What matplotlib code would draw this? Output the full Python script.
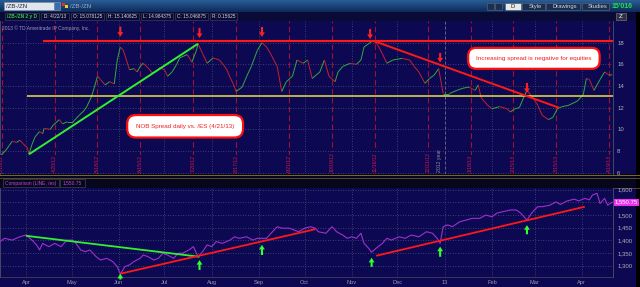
import matplotlib
matplotlib.use('Agg')
import matplotlib.pyplot as plt
import matplotlib.dates as mdates
import matplotlib.transforms as mtrans
import numpy as np
import pandas as pd
from matplotlib.collections import LineCollection
from matplotlib.patches import Rectangle
from matplotlib.colors import LinearSegmentedColormap
from matplotlib.ticker import FuncFormatter

plt.rcParams['font.family'] = ['Liberation Sans', 'DejaVu Sans']

# ---------------- data ----------------
# /ZB-/ZN spread, daily
spread_dates = ['2012-03-15', '2012-03-19', '2012-03-21', '2012-03-23', '2012-03-26', '2012-03-28',
                '2012-03-30', '2012-04-02', '2012-04-03', '2012-04-05', '2012-04-07', '2012-04-10',
                '2012-04-12', '2012-04-13', '2012-04-17', '2012-04-19', '2012-04-23', '2012-04-25',
                '2012-04-28', '2012-05-02', '2012-05-04', '2012-05-06', '2012-05-09', '2012-05-11',
                '2012-05-14', '2012-05-16', '2012-05-18', '2012-05-20', '2012-05-23', '2012-05-26',
                '2012-05-29', '2012-05-31', '2012-06-02', '2012-06-04', '2012-06-06', '2012-06-08',
                '2012-06-11', '2012-06-13', '2012-06-15', '2012-06-17', '2012-06-20', '2012-06-23',
                '2012-06-26', '2012-06-28', '2012-07-01', '2012-07-03', '2012-07-06', '2012-07-09',
                '2012-07-11', '2012-07-16', '2012-07-19', '2012-07-22', '2012-07-23', '2012-07-26',
                '2012-07-29', '2012-08-02', '2012-08-06', '2012-08-09', '2012-08-11', '2012-08-13',
                '2012-08-15', '2012-08-17', '2012-08-21', '2012-08-24', '2012-08-27', '2012-08-31',
                '2012-09-03', '2012-09-06', '2012-09-09', '2012-09-13', '2012-09-16', '2012-09-19',
                '2012-09-23', '2012-09-26', '2012-09-30', '2012-10-03', '2012-10-06', '2012-10-11',
                '2012-10-14', '2012-10-17', '2012-10-21', '2012-10-23', '2012-10-26', '2012-10-31',
                '2012-11-04', '2012-11-07', '2012-11-09', '2012-11-15', '2012-11-18', '2012-11-21',
                '2012-11-24', '2012-11-28', '2012-12-04', '2012-12-09', '2012-12-12', '2012-12-15',
                '2012-12-19', '2012-12-22', '2012-12-25', '2012-12-28', '2012-12-31', '2013-01-04',
                '2013-01-09', '2013-01-13', '2013-01-17', '2013-01-21', '2013-01-23', '2013-01-25',
                '2013-01-29', '2013-02-01', '2013-02-06', '2013-02-11', '2013-02-13', '2013-02-16',
                '2013-02-19', '2013-02-22', '2013-02-24', '2013-02-28', '2013-03-03', '2013-03-06',
                '2013-03-10', '2013-03-13', '2013-03-16', '2013-03-19', '2013-03-23', '2013-03-29',
                '2013-04-02', '2013-04-04', '2013-04-06', '2013-04-09', '2013-04-13', '2013-04-16',
                '2013-04-19', '2013-04-21']
spread_vals = [7.5, 8.1, 8.5, 8.9, 8.8, 9.0,
               8.7, 8.3, 7.7, 8.6, 9.3, 9.8,
               9.6, 10.1, 10.0, 10.4, 10.9, 10.5,
               10.7, 10.7, 11.0, 11.3, 11.7, 12.1,
               13.0, 13.9, 14.9, 14.6, 14.1, 14.4,
               14.2, 16.4, 17.6, 17.3, 16.4, 15.5,
               15.6, 15.3, 15.8, 16.1, 15.7, 15.2,
               15.4, 15.7, 15.5, 14.9, 15.3, 16.0,
               16.6, 16.9, 16.2, 17.3, 17.9, 17.0,
               16.1, 16.6, 16.4, 15.9, 15.5, 14.8,
               14.25, 13.5, 13.9, 14.9, 15.8, 17.3,
               18.0, 17.6, 16.9, 15.8, 13.5, 14.4,
               14.9, 16.4, 16.1, 16.4, 14.7, 15.3,
               16.4, 14.9, 14.4, 15.3, 15.8, 16.1,
               16.0, 16.4, 17.6, 18.2, 17.8, 17.0,
               16.1, 16.4, 16.55, 16.4, 15.8, 15.3,
               14.25, 14.7, 15.0, 15.6, 13.3, 13.3,
               13.6, 13.8, 13.9, 13.6, 14.1, 12.9,
               12.25, 11.9, 12.1, 11.9, 11.6, 11.9,
               12.0, 13.0, 13.6, 12.9, 12.25, 11.3,
               10.9, 11.1, 11.9, 12.1, 12.2, 12.6,
               13.2, 14.7, 14.6, 13.6, 14.6, 15.3,
               15.0, 15.05]

# /ES comparison line
es_dates = ['2012-03-15', '2012-03-18', '2012-03-23', '2012-03-28', '2012-04-01', '2012-04-05',
            '2012-04-08', '2012-04-10', '2012-04-12', '2012-04-16', '2012-04-20', '2012-04-24',
            '2012-04-28', '2012-05-01', '2012-05-03', '2012-05-07', '2012-05-10', '2012-05-13',
            '2012-05-17', '2012-05-20', '2012-05-24', '2012-05-28', '2012-05-31', '2012-06-02',
            '2012-06-05', '2012-06-08', '2012-06-11', '2012-06-15', '2012-06-17', '2012-06-20',
            '2012-06-24', '2012-06-27', '2012-06-30', '2012-07-03', '2012-07-07', '2012-07-10',
            '2012-07-13', '2012-07-17', '2012-07-20', '2012-07-23', '2012-07-26', '2012-07-29',
            '2012-08-01', '2012-08-04', '2012-08-08', '2012-08-13', '2012-08-16', '2012-08-19',
            '2012-08-24', '2012-08-28', '2012-08-31', '2012-09-03', '2012-09-06', '2012-09-09',
            '2012-09-13', '2012-09-16', '2012-09-21', '2012-09-24', '2012-09-27', '2012-10-01',
            '2012-10-05', '2012-10-08', '2012-10-10', '2012-10-15', '2012-10-19', '2012-10-22',
            '2012-10-26', '2012-10-29', '2012-11-01', '2012-11-04', '2012-11-07', '2012-11-09',
            '2012-11-12', '2012-11-14', '2012-11-17', '2012-11-21', '2012-11-24', '2012-11-27',
            '2012-12-02', '2012-12-06', '2012-12-10', '2012-12-15', '2012-12-20', '2012-12-24',
            '2012-12-27', '2012-12-29', '2012-12-31', '2013-01-03', '2013-01-06', '2013-01-11',
            '2013-01-15', '2013-01-19', '2013-01-24', '2013-01-28', '2013-02-01', '2013-02-04',
            '2013-02-08', '2013-02-13', '2013-02-17', '2013-02-20', '2013-02-24', '2013-02-27',
            '2013-03-03', '2013-03-06', '2013-03-11', '2013-03-15', '2013-03-18', '2013-03-22',
            '2013-03-27', '2013-03-30', '2013-04-03', '2013-04-06', '2013-04-08', '2013-04-11',
            '2013-04-13', '2013-04-16', '2013-04-18', '2013-04-21']
es_vals = [1395, 1408, 1401, 1414, 1421, 1401,
           1382, 1362, 1388, 1375, 1388, 1375,
           1401, 1401, 1395, 1362, 1355, 1362,
           1336, 1322, 1329, 1316, 1296, 1266,
           1296, 1303, 1316, 1329, 1342, 1336,
           1322, 1329, 1349, 1342, 1329, 1349,
           1349, 1362, 1375, 1336, 1355, 1382,
           1375, 1395, 1388, 1401, 1414, 1408,
           1414, 1401, 1408, 1408, 1408, 1428,
           1454, 1448, 1448, 1441, 1434, 1448,
           1454, 1448, 1434, 1428, 1454, 1434,
           1421, 1408, 1414, 1408, 1428, 1388,
           1369, 1353, 1369, 1388, 1408, 1401,
           1414, 1408, 1421, 1414, 1434, 1428,
           1408, 1388, 1454, 1461, 1454, 1474,
           1480, 1487, 1487, 1500, 1493, 1507,
           1513, 1520, 1520, 1507, 1480, 1507,
           1533, 1533, 1539, 1552, 1542, 1555,
           1563, 1556, 1566, 1560, 1579, 1586,
           1546, 1566, 1539, 1551]
es_last = 1550.75

# option expiry markers
expiry_dates = ['2012-03-16', '2012-04-20', '2012-05-18', '2012-06-15', '2012-07-20', '2012-08-17',
                '2012-09-21', '2012-10-19', '2012-11-16', '2012-12-21', '2013-01-18', '2013-02-15',
                '2013-03-15', '2013-04-19']
expiry_labels = ['3/16/12', '4/20/12', '5/18/12', '6/15/12', '7/20/12', '8/17/12', '9/21/12',
                 '10/19/12', '11/16/12', '12/21/12', '1/18/13', '2/15/13', '3/15/13', '4/19/13']
year_break = '2013-01-01'

month_starts = pd.date_range('2012-04-01', '2013-04-01', freq='MS')
month_labels = ['Apr', 'May', 'Jun', 'Jul', 'Aug', 'Sep', 'Oct', 'Nov', 'Dec', '13', 'Feb', 'Mar', 'Apr']
spread_ticks = [6, 8, 10, 12, 14, 16, 18]
es_ticks = [1300, 1350, 1400, 1450, 1500, 1550, 1600]

# hand-drawn studies (date, value)
spread_up_trend = [('2012-04-03', 7.7), ('2012-07-23', 17.9)]
spread_down_trend = [('2012-11-15', 18.18), ('2013-03-17', 12.0)]
spread_resist = ('2012-04-12', 18.18)
spread_support = ('2012-04-02', 13.08)
es_green_trend = [('2012-04-01', 1418), ('2012-07-24', 1335)]
es_red_trend1 = [('2012-06-02', 1268), ('2012-10-08', 1444)]
es_red_trend2 = [('2012-11-17', 1339), ('2013-04-03', 1533)]
down_arrows = [('2012-06-02', 19.48, 18.55), ('2012-07-24', 19.36, 18.43), ('2012-09-03', 19.45, 18.53),
               ('2012-11-13', 19.27, 18.34), ('2012-12-29', 17.05, 16.17), ('2013-02-24', 14.28, 13.36)]
up_arrows = [('2012-06-02', 1245, 1268), ('2012-07-24', 1283, 1322), ('2012-09-03', 1342, 1382),
             ('2012-11-14', 1295, 1331), ('2012-12-29', 1335, 1375), ('2013-02-24', 1424, 1460)]

# ---------------- figure ----------------
W, H = 640, 287
NAVY = '#0c0952'
fig = plt.figure(figsize=(6.4, 2.87), dpi=100)
fig.patch.set_facecolor(NAVY)

bg = fig.add_axes([0, 0, 1, 1], zorder=0)
bg.set_xlim(0, W); bg.set_ylim(H, 0); bg.axis('off')

# header gradient
grad = np.linspace(0, 1, 20).reshape(-1, 1)
hcm = LinearSegmentedColormap.from_list('h', ['#2a5c96', '#0d2b5a'])
bg.imshow(grad, extent=[0, W, 12, 0], cmap=hcm, aspect='auto', zorder=1)
bg.add_patch(Rectangle((4, 2), 50, 8, fc='#dfe6ee', ec='#8090a0', lw=0.5, zorder=2))
bg.text(6, 6.3, '/ZB-/ZN', fontsize=4.3, color='#202030', va='center', zorder=3)
bg.add_patch(Rectangle((54, 2), 6, 8, fc='#3c6cb0', ec='#8090a0', lw=0.5, zorder=2))
bg.add_patch(Rectangle((62, 3), 3, 3, fc='#e03030', zorder=2))
bg.add_patch(Rectangle((65, 5), 3, 3, fc='#f0d020', zorder=2))
bg.text(70, 6.3, '/ZB-/ZN', fontsize=4.3, color='#a0b0c8', va='center', zorder=3)
for bx, bw, lab in [(487, 7, ''), (495, 7, ''), (505, 16, 'D'), (522, 23, 'Style'),
                    (546, 34, 'Drawings'), (582, 27, 'Studies')]:
    fc = '#e8e8e8' if lab == 'D' else '#1c2f50'
    bg.add_patch(Rectangle((bx, 2.5), bw, 7.5, fc=fc, ec='#50607a', lw=0.5, zorder=2))
    if lab:
        bg.text(bx + bw / 2 + (0 if lab == 'D' else 2), 6.5, lab, fontsize=4.2,
                color='#202020' if lab == 'D' else '#d0d8e0', ha='center', va='center', zorder=3)
bg.text(612, 6.5, "15'016", fontsize=5, color='#20e040', fontweight='bold', va='center', zorder=3)

# info bar
bg.add_patch(Rectangle((0, 12), W, 9, fc='#0a0a36', zorder=1))
cells = [(5, 34, '/ZB-/ZN 2 y D'), (41, 28, 'D: 4/22/13'), (71, 33, 'O: 15.078125'),
         (106, 33, 'H: 15.140625'), (141, 32, 'L: 14.984375'), (175, 33, 'C: 15.046875'),
         (210, 27, 'R: 0.15625')]
for i, (cx, cw, lab) in enumerate(cells):
    bg.add_patch(Rectangle((cx, 13), cw, 7, fc='none', ec='#3c3c58', lw=0.5, zorder=2))
    bg.text(cx + cw / 2, 16.7, lab, fontsize=3.4, color='#30d040' if i == 0 else '#d8d8e0',
            fontweight='bold' if i == 0 else 'normal', ha='center', va='center', zorder=3)
bg.add_patch(Rectangle((616, 13), 10, 7, fc='#303040', ec='#707080', lw=0.5, zorder=2))
bg.text(621, 16.7, 'Z', fontsize=4.5, color='white', ha='center', va='center', zorder=3)

# separator band between panels
bg.add_patch(Rectangle((0, 174), W, 14, fc='#06061c', zorder=1))
bg.plot([0, W], [174.5, 174.5], color='#7a6a30', lw=0.7, zorder=2)
bg.plot([0, W], [178, 178], color='#5a4a28', lw=0.7, zorder=2)
bg.plot([0, W], [188, 188], color='#5a3a48', lw=0.7, zorder=2)
bg.add_patch(Rectangle((3, 179), 56, 8, fc='none', ec='#404058', lw=0.5, zorder=2))
bg.text(31, 183, 'Comparison (LINE, /es)', fontsize=3.5, color='#c048e0', ha='center', va='center', zorder=3)
bg.add_patch(Rectangle((60, 179), 25, 8, fc='none', ec='#404058', lw=0.5, zorder=2))
bg.text(72.5, 183, '1,550.75', fontsize=3.5, color='#c048e0', ha='center', va='center', zorder=3)
bg.add_patch(Rectangle((635.5, 12), 4.5, H - 12, fc='black', zorder=1))
bg.plot([0, 613], [277, 277], color='#404060', lw=0.6, zorder=2)

# ---------------- main panel: spread ----------------
def box(top, bottom):
    return [0, 1 - bottom / H, 613 / W, (bottom - top) / H]

ax = fig.add_axes(box(21, 174), zorder=1)
ax2 = fig.add_axes(box(188, 277), zorder=1)
xmin = mdates.date2num(pd.Timestamp('2012-03-15'))
xmax = mdates.date2num(pd.Timestamp('2013-04-21 12:00'))

for a in (ax, ax2):
    a.set_facecolor(NAVY)
    a.set_xlim(xmin, xmax)
    a.set_xticks(mdates.date2num(month_starts))
    a.grid(True, color='#50507a', linestyle=(0, (1, 2)), lw=0.6)
    a.yaxis.tick_right()
    a.tick_params(length=0, labelsize=4.3, labelcolor='#b0b0bc', pad=3)
    for s in ['top', 'bottom']:
        a.spines[s].set_visible(False)
    for s in ['left', 'right']:
        a.spines[s].set_color('#505068'); a.spines[s].set_linewidth(0.6)

ax.set_ylim(5.88, 20.0)
ax.set_yticks(spread_ticks)
ax.tick_params(labelbottom=False)

xs = mdates.date2num(pd.to_datetime(spread_dates))
vs = np.array(spread_vals)
pts = np.column_stack([xs, vs])
segs = np.stack([pts[:-1], pts[1:]], axis=1)
cols = np.where(np.diff(vs) >= 0, '#35a840', '#c8202c')
ax.add_collection(LineCollection(segs, colors=cols, linewidths=0.7, zorder=3))

trans = mtrans.blended_transform_factory(ax.transData, ax.transAxes)
for d, lab in zip(expiry_dates, expiry_labels):
    xd = mdates.date2num(pd.Timestamp(d))
    ax.axvline(xd, color='#a01030', ls=(0, (5, 3)), lw=0.8, zorder=2)
    ax.text(xd, 0.012, lab, rotation=90, ha='center', va='bottom', fontsize=3.7, color='#d81840',
            transform=trans, zorder=4, bbox=dict(fc=NAVY, ec='none', pad=0.3))
xy = mdates.date2num(pd.Timestamp(year_break))
ax.axvline(xy, color='#707080', ls=(0, (3, 3)), lw=0.6, zorder=2)
ax.text(xy - 1.5, 0.012, '2012 year', rotation=90, ha='right', va='bottom', fontsize=3.7,
        color='#9090a0', transform=trans, zorder=4)

ax.text(0.004, 0.955, '2013 \u00a9 TD Ameritrade IP Company, Inc.', transform=ax.transAxes,
        fontsize=3.5, color='#9a9aaa', va='center', zorder=4)

# studies on the spread
ax.hlines(spread_resist[1], mdates.date2num(pd.Timestamp(spread_resist[0])), xmax,
          color='#ff1818', lw=1.5, zorder=5)
ax.hlines(spread_support[1], mdates.date2num(pd.Timestamp(spread_support[0])), xmax,
          color='#e8e048', lw=1.1, zorder=5)
for line, c in [(spread_up_trend, '#30f030'), (spread_down_trend, '#ff1818')]:
    lx = [mdates.date2num(pd.Timestamp(p[0])) for p in line]
    ax.plot(lx, [p[1] for p in line], color=c, lw=1.4, zorder=5, solid_capstyle='butt')
for d, tail, tip in down_arrows:
    xd = mdates.date2num(pd.Timestamp(d))
    ax.annotate('', xy=(xd, tip), xytext=(xd, tail), zorder=6,
                arrowprops=dict(fc='#ff2020', ec='none', width=1.5, headwidth=4.2, headlength=3.3, shrink=0))

ax.text(0.302, 0.312, 'NOB Spread daily vs. /ES (4/21/13)', transform=ax.transAxes, fontsize=4.5,
        color='#f02020', ha='center', va='center', zorder=7,
        bbox=dict(boxstyle='round,pad=1.4', fc='white', ec='#ff1010', lw=1.6))
ax.text(0.871, 0.756, 'Increasing spread is negative for equities', transform=ax.transAxes, fontsize=4.6,
        color='#f02020', ha='center', va='center', zorder=7,
        bbox=dict(boxstyle='round,pad=1.25', fc='white', ec='#ff1010', lw=1.6))

# ---------------- lower panel: /ES comparison ----------------
ax2.set_ylim(1255, 1607)
ax2.set_yticks(es_ticks)
# the 1,550 label sits under the last-price box
ax2.yaxis.set_major_formatter(FuncFormatter(lambda v, p: '' if int(v) == 1550 else '{:,}'.format(int(v))))
ax2.set_xticklabels(month_labels)
ax2.tick_params(axis='x', pad=2.5, labelsize=4.1, labelcolor='#9a9aa8')
ax2.plot(mdates.date2num(pd.to_datetime(es_dates)), es_vals, color='#9e30cc', lw=0.8, zorder=3)

for line, c in [(es_green_trend, '#30f030'), (es_red_trend1, '#ff1818'), (es_red_trend2, '#ff1818')]:
    lx = [mdates.date2num(pd.Timestamp(p[0])) for p in line]
    ax2.plot(lx, [p[1] for p in line], color=c, lw=1.3, zorder=5, solid_capstyle='butt')
for d, tail, tip in up_arrows:
    xd = mdates.date2num(pd.Timestamp(d))
    ax2.annotate('', xy=(xd, tip), xytext=(xd, tail), zorder=6, annotation_clip=True,
                 arrowprops=dict(fc='#30ff30', ec='none', width=1.5, headwidth=4.2, headlength=3.3, shrink=0))

trans2 = mtrans.blended_transform_factory(ax2.transAxes, ax2.transData)
ax2.text(1.003, es_last, '1,550.75', transform=trans2, fontsize=4.3, color='white', ha='left',
         va='center', zorder=8, clip_on=False, bbox=dict(fc='#f030f0', ec='none', pad=0.8))

fig.savefig('out.png', dpi=100, facecolor=fig.get_facecolor())
